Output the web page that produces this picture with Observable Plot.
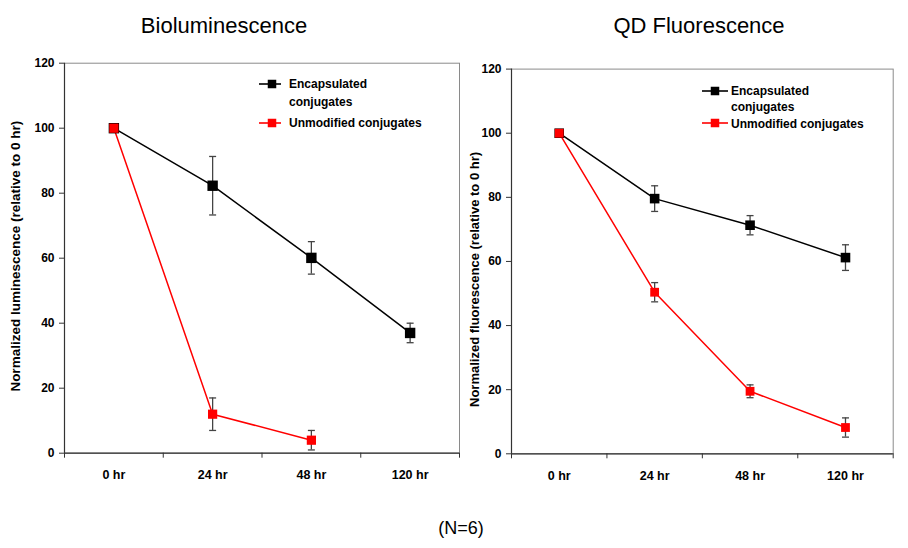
<!DOCTYPE html>
<html><head><meta charset="utf-8">
<script src="https://cdn.jsdelivr.net/npm/d3@7"></script>
<script src="https://cdn.jsdelivr.net/npm/@observablehq/plot@0.6"></script>
<style>
html,body{margin:0;padding:0;background:#fff;}
#root{position:relative;width:908px;height:548px;overflow:hidden;font-family:"Liberation Sans",Arial,sans-serif;background:#fff;}
.t{position:absolute;white-space:nowrap;color:#000;}
.chart{position:absolute;top:40px;}
</style></head><body><div id="root"></div>
<script>
// ---- data ----
const categories = ["0 hr", "24 hr", "48 hr", "120 hr"];
const yTicks = [0, 20, 40, 60, 80, 100, 120];
const bioEnc = [100, 82.3, 60.1, 37];
const bioEncErr = [0, 9, 5, 3];
const bioUnm = [100, 12, 4];
const bioUnmErr = [0, 5, 3];
const qdEnc = [100, 79.6, 71.3, 61.2];
const qdEncErr = [0, 4, 3, 4];
const qdUnm = [100, 50.4, 19.5, 8.2];
const qdUnmErr = [0, 3, 2, 3];
const seriesLines = [["Encapsulated", "conjugates"], ["Unmodified conjugates"]];
const colors = ["#000000", "#ff0000"];
const titles = ["Bioluminescence", "QD Fluorescence"];
const yLabels = ["Normalized luminescence (relative to 0 hr)", "Normalized fluorescence (relative to 0 hr)"];
const caption = "(N=6)";

const FONT = '"Liberation Sans", Arial, sans-serif';
const root = document.getElementById("root");

const rows = (vals, errs) => vals.map((v, i) => ({x: i + 0.5, cat: categories[i], y: v, lo: v - errs[i], hi: v + errs[i]}));
const sq = {draw(ctx, size) { const s = Math.sqrt(size / Math.PI); ctx.rect(-s, -s, 2 * s, 2 * s); }};
const cap = {draw(ctx, size) { const s = Math.sqrt(size / Math.PI); ctx.moveTo(-s, 0); ctx.lineTo(s, 0); }};

function panel(o) {
  const encRows = rows(o.enc, o.encErr), unmRows = rows(o.unm, o.unmErr);
  const errRows = [...encRows, ...unmRows].filter(d => d.hi > d.lo);
  const p = Plot.plot({
    width: o.width, height: 460,
    marginLeft: o.mL, marginRight: o.mR, marginTop: o.mT, marginBottom: o.mB,
    x: {domain: [0, 4]},
    y: {domain: [0, 120]},
    style: {fontFamily: FONT, background: "transparent", overflow: "visible", color: "#000"},
    marks: [
      Plot.frame({stroke: "#8a8a8a", strokeWidth: 1}),
      Plot.ruleX([0], {stroke: "#333", strokeWidth: 1.2}),
      Plot.ruleY([0], {stroke: "#333", strokeWidth: 1.2}),
      Plot.axisY({ticks: yTicks, tickSize: 5, tickPadding: 5, fontSize: 12, fontWeight: "bold", stroke: "#333", fill: "#000", label: null}),
      Plot.axisX({ticks: [0, 1, 2, 3, 4], tickSize: 5, tickFormat: () => "", stroke: "#333", label: null}),
      Plot.axisX({ticks: categories.map((c, i) => i + 0.5), tickSize: 0, tickPadding: 17, tickFormat: d => categories[Math.floor(d)], fontSize: 12.5, fontWeight: "bold", fill: "#000", label: null}),
      Plot.text([o.ylabel], {frameAnchor: "left", textAnchor: "middle", lineAnchor: "middle", rotate: -90, dx: o.ldx, dy: o.ldy, fontSize: o.lsize, fontWeight: "bold", fill: "#000"}),
      Plot.ruleX(errRows, {x: "x", y1: "lo", y2: "hi", stroke: "#444", strokeWidth: 1.3}),
      Plot.dot(errRows, {x: "x", y: "lo", symbol: cap, r: 3.5, stroke: "#444", strokeWidth: 1.3, fill: "none"}),
      Plot.dot(errRows, {x: "x", y: "hi", symbol: cap, r: 3.5, stroke: "#444", strokeWidth: 1.3, fill: "none"}),
      Plot.line(encRows, {x: "x", y: "y", stroke: colors[0], strokeWidth: 1.5}),
      Plot.line(unmRows, {x: "x", y: "y", stroke: colors[1], strokeWidth: 1.5}),
      Plot.dot(encRows, {x: "x", y: "y", symbol: sq, r: o.encR, fill: colors[0], stroke: "none"}),
      Plot.dot(unmRows, {x: "x", y: "y", symbol: sq, r: o.unmR, fill: colors[1], stroke: "none"})
    ]
  });
  p.classList.add("chart");
  p.style.left = o.left + "px";
  root.appendChild(p);
}

panel({left: 0, width: 462, mL: 64, mR: 3, mT: 22.7, mB: 47.3,
  enc: bioEnc, encErr: bioEncErr, unm: bioUnm, unmErr: bioUnmErr,
  ylabel: yLabels[0], ldx: -49, ldy: -2, lsize: 13.5, encR: 5.2, unmR: 4.6});
panel({left: 460, width: 448, mL: 51, mR: 15.3, mT: 28.6, mB: 46.7,
  enc: qdEnc, encErr: qdEncErr, unm: qdUnm, unmErr: qdUnmErr,
  ylabel: yLabels[1], ldx: -37, ldy: 18, lsize: 13, encR: 4.8, unmR: 4.4});

// ---- text helpers ----
function addText(txt, {x, baseline, size, weight = "normal", center = false}) {
  const d = document.createElement("div");
  d.className = "t";
  d.textContent = txt;
  d.style.fontSize = size + "px";
  d.style.lineHeight = size + "px";
  d.style.fontWeight = weight;
  d.style.top = (baseline - 0.8465 * size) + "px";
  d.style.left = x + "px";
  if (center) d.style.transform = "translateX(-50%)";
  root.appendChild(d);
}
addText(titles[0], {x: 224, baseline: 33.3, size: 22, center: true});
addText(titles[1], {x: 699, baseline: 33.3, size: 22, center: true});
addText(caption, {x: 461, baseline: 534, size: 18, center: true});

function swatch(x1, x2, cx, y, s, color) {
  const svg = d3.create("svg").attr("width", x2 - x1).attr("height", 14)
    .style("position", "absolute").style("left", x1 + "px").style("top", (y - 7) + "px");
  svg.append("line").attr("x1", 0).attr("x2", x2 - x1).attr("y1", 7).attr("y2", 7).attr("stroke", color).attr("stroke-width", 1.6);
  svg.append("rect").attr("x", cx - x1 - s / 2).attr("y", 7 - s / 2).attr("width", s).attr("height", s).attr("fill", color);
  root.appendChild(svg.node());
}
function legend(L) {
  swatch(L.x1, L.x2, L.cx, L.ys[0], L.s, colors[0]);
  swatch(L.x1, L.x2, L.cx, L.ys[2], L.s, colors[1]);
  const lines = [seriesLines[0][0], seriesLines[0][1], seriesLines[1][0]];
  lines.forEach((t, i) => addText(t, {x: L.tx, baseline: L.ys[i] + 4.5, size: 12, weight: "bold"}));
}
legend({x1: 259, x2: 281, cx: 272, s: 8.5, tx: 289, ys: [84, 101.7, 122.7]});
legend({x1: 702, x2: 728, cx: 715, s: 8.5, tx: 731, ys: [90.7, 106.7, 123.3]});
</script>
</body></html>
